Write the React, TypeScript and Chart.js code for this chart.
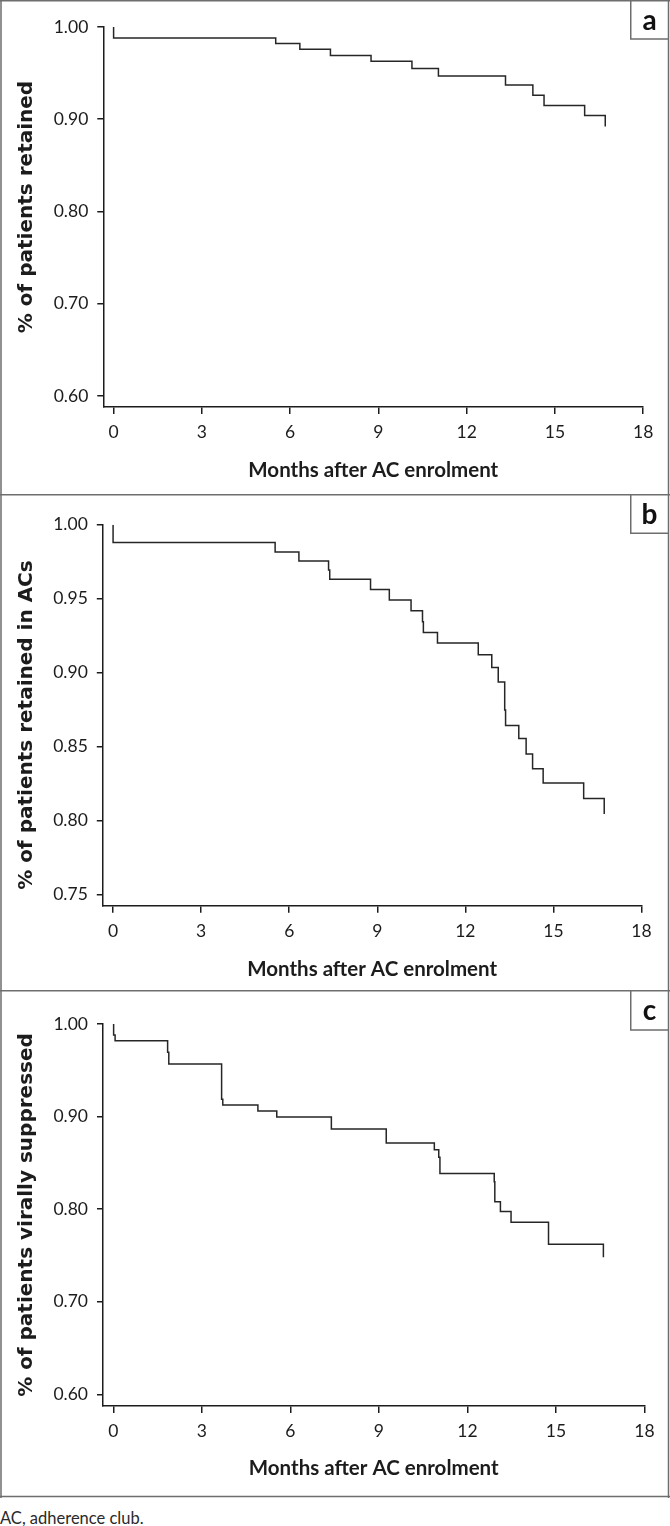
import React, { useEffect, useRef } from 'react';
import { Chart, registerables } from 'chart.js';

Chart.register(...registerables);

// ---------- data ----------
const X_TICKS = [0, 3, 6, 9, 12, 15, 18];
const X_TITLE = 'Months after AC enrolment';
const CAPTION = 'AC, adherence club.';

// Panel a – retention
const A_TIMES = [0, 0, 5.51, 6.33, 7.37, 8.75, 10.14, 11.04, 13.32, 14.25, 14.63, 16.01, 16.71];
const A_SURV = [1.0, 0.988, 0.982, 0.976, 0.969, 0.963, 0.955, 0.947, 0.937, 0.926, 0.915, 0.904, 0.892];
const A_Y_TICKS = [0.6, 0.7, 0.8, 0.9, 1.0];
const A_Y_TITLE = '% of patients retained';

// Panel b – retention in ACs
const B_TIMES = [0, 0, 5.52, 6.33, 7.34, 7.38, 8.77, 9.41, 10.15, 10.54, 10.57, 11.05, 12.44, 12.9, 13.12, 13.34, 13.37, 13.82, 14.07, 14.29, 14.65, 16.03, 16.73];
const B_SURV = [1.0, 0.988, 0.9816, 0.9755, 0.9694, 0.9631, 0.9563, 0.9491, 0.9419, 0.9344, 0.9272, 0.92, 0.9121, 0.9036, 0.8937, 0.8748, 0.8644, 0.8556, 0.8451, 0.8351, 0.8255, 0.8151, 0.8045];
const B_Y_TICKS = [0.75, 0.8, 0.85, 0.9, 0.95, 1.0];
const B_Y_TITLE = '% of patients retained in ACs';

// Panel c – viral suppression
const C_TIMES = [0, 0.01, 0.06, 1.84, 1.88, 3.67, 3.71, 4.9, 5.54, 7.39, 9.25, 10.88, 11.03, 11.07, 12.91, 12.93, 13.12, 13.48, 14.75, 16.61];
const C_SURV = [1.0, 0.988, 0.982, 0.9694, 0.9568, 0.9186, 0.9124, 0.9059, 0.8995, 0.8865, 0.8714, 0.8641, 0.8562, 0.8386, 0.8295, 0.8079, 0.7975, 0.7859, 0.7622, 0.748];
const C_Y_TICKS = [0.6, 0.7, 0.8, 0.9, 1.0];
const C_Y_TITLE = '% of patients virally suppressed';

// ---------- styling ----------
const INK = '#1c1c1c';
const BORDER = '#6e6e6e';
const TICK_FONT = 'Lato, "Open Sans", sans-serif';
const YTITLE_FONT = '"DejaVu Sans", Verdana, sans-serif';

type Geo = {
  top: number; height: number;
  left: number; right: number; areaTop: number; areaBottom: number;
  xMin: number; yMin: number; yMax: number;
  xTitleY: number; yTitleX: number; yTitleY: number; boxBottom: number;
  drawBottom: boolean;
};

type PanelProps = {
  times: number[]; surv: number[]; yTicks: number[]; yTitle: string; label: string; geo: Geo;
};

function Panel({ times, surv, yTicks, yTitle, label, geo }: PanelProps) {
  const ref = useRef<HTMLCanvasElement | null>(null);
  useEffect(() => {
    if (!ref.current) return;
    const W = 670;
    const points = times.map((t, i) => ({ x: t, y: surv[i] }));
    const decor = {
      id: 'decor',
      afterDraw(chart: any) {
        const ctx = chart.ctx as CanvasRenderingContext2D;
        const area = chart.chartArea;
        ctx.save();
        // panel frame
        ctx.strokeStyle = BORDER;
        ctx.lineWidth = 1.5;
        ctx.beginPath();
        ctx.moveTo(0, 0.75); ctx.lineTo(W, 0.75);
        ctx.moveTo(1, 0); ctx.lineTo(1, geo.height);
        ctx.moveTo(668.5, 0); ctx.lineTo(668.5, geo.height);
        if (geo.drawBottom) { ctx.moveTo(0, geo.height - 1.5); ctx.lineTo(W, geo.height - 1.5); }
        // label box
        ctx.moveTo(630.75, 0); ctx.lineTo(630.75, geo.boxBottom);
        ctx.lineTo(668.5, geo.boxBottom);
        ctx.stroke();
        // label letter
        ctx.fillStyle = '#111';
        ctx.font = 'bold 28px Lato, "Liberation Sans", sans-serif';
        ctx.textAlign = 'center';
        ctx.textBaseline = 'middle';
        ctx.fillText(label, 649.5, geo.boxBottom / 2 + 1);
        // x title
        ctx.fillStyle = INK;
        ctx.font = 'bold 20.5px ' + TICK_FONT;
        ctx.fillText(X_TITLE, (area.left + area.right) / 2, geo.xTitleY);
        // y title
        ctx.translate(geo.yTitleX, geo.yTitleY);
        ctx.rotate(-Math.PI / 2);
        ctx.font = 'bold 20px ' + YTITLE_FONT;
        ctx.fillText(yTitle, 0, 0);
        ctx.restore();
      },
    };
    const chart = new Chart(ref.current, {
      type: 'line',
      data: {
        datasets: [
          {
            data: points,
            stepped: true,
            borderColor: '#262626',
            borderWidth: 1.5,
            pointRadius: 0,
            fill: false,
          },
        ],
      },
      options: {
        animation: false,
        responsive: false,
        maintainAspectRatio: false,
        events: [],
        layout: { padding: { top: geo.areaTop, right: W - geo.right, bottom: 0, left: 0 } },
        plugins: { legend: { display: false }, tooltip: { enabled: false }, title: { display: false } },
        scales: {
          x: {
            type: 'linear',
            min: geo.xMin,
            max: 18,
            afterBuildTicks: (s: any) => { s.ticks = X_TICKS.map((v) => ({ value: v })); },
            afterFit: (s: any) => {
              s.height = geo.height - geo.areaBottom;
              s.paddingLeft = 0; s.paddingRight = 0; s.paddingTop = 0; s.paddingBottom = 0;
            },
            border: { display: true, color: INK, width: 1.5 },
            grid: { drawOnChartArea: false, drawTicks: true, tickLength: 7, color: INK, lineWidth: 1.5 },
            ticks: {
              autoSkip: false,
              maxRotation: 0,
              padding: 8,
              color: INK,
              font: { family: TICK_FONT, size: 17.5 },
              callback: (v: any) => String(v),
            },
          },
          y: {
            type: 'linear',
            min: geo.yMin,
            max: geo.yMax,
            afterBuildTicks: (s: any) => { s.ticks = yTicks.map((v) => ({ value: v })); },
            afterFit: (s: any) => {
              s.width = geo.left;
              s.paddingLeft = 0; s.paddingRight = 0; s.paddingTop = 0; s.paddingBottom = 0;
            },
            border: { display: true, color: INK, width: 1.5 },
            grid: { drawOnChartArea: false, drawTicks: true, tickLength: 6, color: INK, lineWidth: 1.5 },
            ticks: {
              autoSkip: false,
              padding: 9,
              color: INK,
              font: { family: TICK_FONT, size: 17.5 },
              callback: (v: any) => Number(v).toFixed(2),
            },
          },
        },
      },
      plugins: [decor],
    } as any);
    return () => chart.destroy();
  }, [times, surv, yTicks, yTitle, label, geo]);

  return (
    <canvas
      ref={ref}
      width={670}
      height={geo.height}
      style={{ position: 'absolute', left: 0, top: geo.top, width: 670, height: geo.height }}
    />
  );
}

const GEO_A: Geo = {
  top: 0, height: 494, left: 103.3, right: 643.2, areaTop: 27, areaBottom: 407,
  xMin: -0.35, yMin: 0.588, yMax: 1.0, xTitleY: 470, yTitleX: 27, yTitleY: 207, boxBottom: 39, drawBottom: false,
};
const GEO_B: Geo = {
  top: 494, height: 496, left: 102.8, right: 641.5, areaTop: 30.7, areaBottom: 411.7,
  xMin: -0.35, yMin: 0.7426, yMax: 1.0, xTitleY: 475, yTitleX: 27, yTitleY: 231, boxBottom: 39.3, drawBottom: false,
};
const GEO_C: Geo = {
  top: 990, height: 508, left: 103, right: 644.4, areaTop: 34, areaBottom: 416,
  xMin: -0.35, yMin: 0.5874, yMax: 1.0, xTitleY: 478, yTitleX: 27, yTitleY: 225, boxBottom: 40, drawBottom: true,
};

export default function App() {
  useEffect(() => {
    document.body.style.margin = '0';
    document.body.style.background = '#ffffff';
  }, []);
  return (
    <div style={{ position: 'relative', width: 670, height: 1526, background: '#fff', overflow: 'hidden' }}>
      <Panel times={A_TIMES} surv={A_SURV} yTicks={A_Y_TICKS} yTitle={A_Y_TITLE} label="a" geo={GEO_A} />
      <Panel times={B_TIMES} surv={B_SURV} yTicks={B_Y_TICKS} yTitle={B_Y_TITLE} label="b" geo={GEO_B} />
      <Panel times={C_TIMES} surv={C_SURV} yTicks={C_Y_TICKS} yTitle={C_Y_TITLE} label="c" geo={GEO_C} />
      <div
        style={{
          position: 'absolute', left: 0, top: 1507, fontFamily: TICK_FONT, fontSize: 16.5,
          color: '#2a2a2a', lineHeight: '22px', whiteSpace: 'nowrap',
        }}
      >
        {CAPTION}
      </div>
    </div>
  );
}
